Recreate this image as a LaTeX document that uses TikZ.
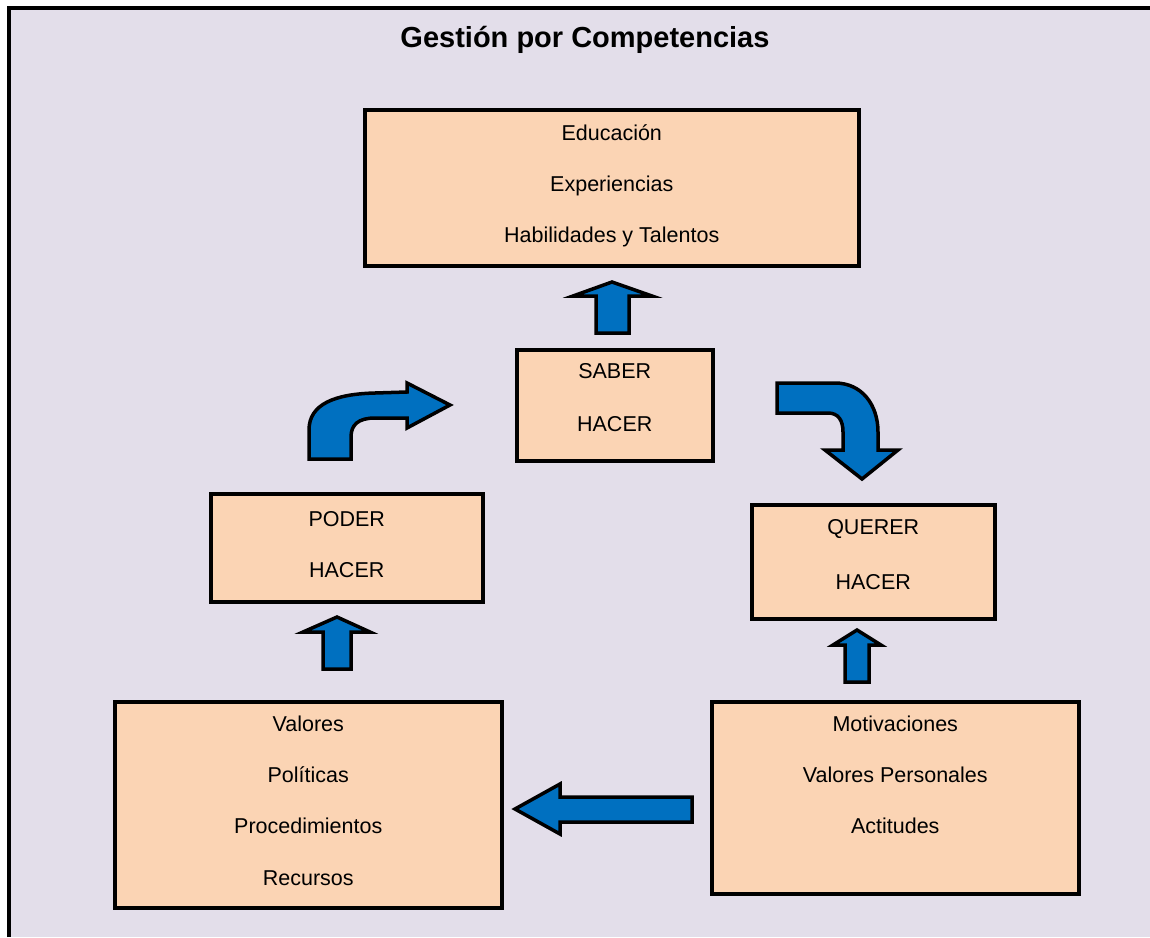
\documentclass[tikz,border=0pt]{standalone}
\usepackage{fontspec}
\setmainfont{Liberation Sans}
\definecolor{panelbg}{HTML}{E3DEEA}
\definecolor{peach}{HTML}{FBD4B4}
\definecolor{arrowblue}{HTML}{0070C0}
\tikzset{
  box/.style={draw=black, line width=3.5pt, fill=peach, inner sep=0pt, anchor=north west},
  % the base anchor of a multi-line node is the baseline of its last line
  boxtext/.style={anchor=base, align=center, inner sep=0pt},
  blockarrow/.style={draw=black, line width=3.5pt, fill=arrowblue, line join=miter},
}
\newcommand{\txtfont}[1]{\fontsize{21.5}{#1}\selectfont}
\begin{document}
\begin{tikzpicture}[x=1pt, y=-1pt]
\useasboundingbox (0,0) rectangle (1150,937);
% panel background and frame
\fill[panelbg] (9,8) rectangle (1150,937);
\draw[line width=3.5pt] (9,937) -- (9,8) -- (1150,8);

% title
\node[anchor=base, inner sep=0pt, font=\fontsize{29}{35}\selectfont\bfseries] (title) at (585,47) {Gestión por Competencias};

% boxes
\node[box, minimum width=494pt, minimum height=156pt] (edu) at (363,108) {};
\node[box, minimum width=196pt, minimum height=111pt] (saber) at (515,348) {};
\node[box, minimum width=272pt, minimum height=108pt] (poder) at (209,492) {};
\node[box, minimum width=243pt, minimum height=114pt] (querer) at (750,503) {};
\node[box, minimum width=387pt, minimum height=206pt] (valores) at (113,700) {};
\node[box, minimum width=367pt, minimum height=192pt] (motiv) at (710,700) {};

% box texts
\node[boxtext, font=\txtfont{51}, yshift=-134pt] (edu-t) at (edu.north) {Educación\\Experiencias\\Habilidades y Talentos};
\node[boxtext, font=\txtfont{53}, yshift=-83pt] (saber-t) at (saber.north) {SABER\\HACER};
\node[boxtext, font=\txtfont{51}, yshift=-85pt] (poder-t) at (poder.north) {PODER\\HACER};
\node[boxtext, font=\txtfont{55}, yshift=-86pt] (querer-t) at (querer.north) {QUERER\\HACER};
\node[boxtext, font=\txtfont{51.3}, yshift=-185pt] (valores-t) at (valores.north) {Valores\\Políticas\\Procedimientos\\Recursos};
\node[boxtext, font=\txtfont{51}, yshift=-133pt] (motiv-t) at (motiv.north) {Motivaciones\\Valores Personales\\Actitudes};

% straight block arrows
\draw[blockarrow] (596,333) -- (596,296) -- (573,296) -- (612,282) -- (652,296) -- (629,296) -- (629,333) -- cycle;
\draw[blockarrow] (323,669) -- (323,632) -- (303,632) -- (337,617) -- (370,632) -- (351,632) -- (351,669) -- cycle;
\draw[blockarrow] (845,682) -- (845,645) -- (833,645) -- (857,630) -- (881,645) -- (869,645) -- (869,682) -- cycle;
\draw[blockarrow] (692,797) -- (560,797) -- (560,784) -- (515,809) -- (560,834) -- (560,822) -- (692,822) -- cycle;

% bent arrow from PODER towards SABER
\draw[blockarrow] (309,459) -- (309,430)
  .. controls (309,404) and (335,394) .. (375,393) -- (407,392) -- (407,383) -- (450,405)
  -- (407,428) -- (407,418) -- (375,418)
  .. controls (358,418) and (351,425) .. (351,437) -- (351,459) -- cycle;

% bent arrow from SABER towards QUERER
\draw[blockarrow] (777,383) -- (835,383)
  .. controls (862,383) and (878,405) .. (878,432) -- (878,450) -- (898,450) -- (862,479)
  -- (825,450) -- (843,450) -- (843,432)
  .. controls (843,420) and (838,413) .. (828,413) -- (777,413) -- cycle;
\end{tikzpicture}
\end{document}
